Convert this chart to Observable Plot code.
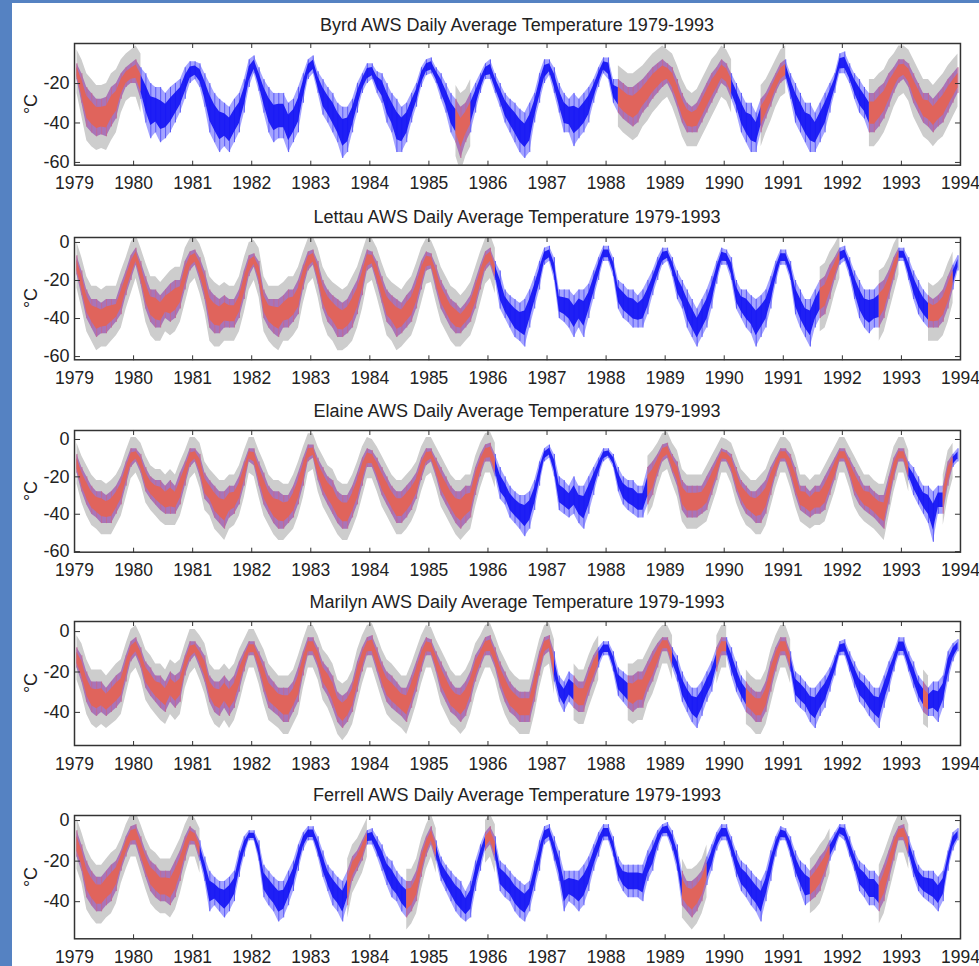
<!DOCTYPE html>
<html>
<head>
<meta charset="utf-8">
<script src="https://cdn.jsdelivr.net/npm/d3@7"></script>
<script src="https://cdn.jsdelivr.net/npm/@observablehq/plot@0.6"></script>
<style>
  body { margin: 0; background: #5582c2; }
  #page { position: absolute; left: 12px; top: 3px; width: 967px; height: 963px; background: #fff; overflow: hidden; }
  .ttl { position: absolute; left: 62px; width: 886px; text-align: center; font: 18px "Liberation Sans", Arial, sans-serif; line-height: 18px; color: #222; white-space: nowrap; }
  .ylab { position: absolute; width: 40px; text-align: center; font: 18px "Liberation Sans", Arial, sans-serif; line-height: 18px; color: #222; transform: rotate(-90deg); }
  svg { position: absolute; left: 0; overflow: visible; }
</style>
</head>
<body>
<div id="page"></div>
<script>
// ---------------- data (monthly extent of daily values, °C; Jan..Dec per row) ----------------
const stations = ["Byrd", "Lettau", "Elaine", "Marilyn", "Ferrell"];
const xTicks = [1979,1980,1981,1982,1983,1984,1985,1986,1987,1988,1989,1990,1991,1992,1993,1994];
const firstYear = 1979;

const byrdHi = [
 -10,-15,-22,-25,-28,-28,-27,-22,-20,-15,-12,-10,
 -8,-12,-15,-20,-22,-22,-25,-22,-20,-18,-12,-9,
 -9,-10,-15,-20,-25,-28,-30,-32,-28,-25,-18,-8,
 -6,-12,-18,-22,-25,-25,-25,-30,-28,-22,-15,-8,
 -6,-14,-18,-22,-25,-30,-32,-32,-28,-20,-15,-10,
 -10,-14,-15,-20,-25,-28,-32,-30,-25,-20,-12,-8,
 -7,-12,-15,-20,-25,-28,-32,-30,-25,-20,-15,-10,
 -8,-15,-20,-25,-28,-30,-33,-35,-30,-25,-15,-8,
 -8,-12,-20,-25,-28,-25,-28,-25,-22,-18,-12,-7,
 -7,-18,-18,-20,-22,-22,-20,-18,-15,-12,-10,-8,
 -10,-12,-18,-25,-30,-32,-30,-25,-20,-15,-12,-8,
 -10,-15,-20,-25,-30,-30,-35,-28,-25,-20,-15,-10,
 -8,-15,-20,-25,-30,-30,-35,-30,-25,-20,-15,-5,
 -4,-10,-15,-18,-22,-25,-25,-22,-20,-15,-12,-8,
 -8,-10,-15,-20,-25,-25,-28,-25,-22,-18,-15,-12];
const byrdLo = [
 -18,-30,-42,-45,-47,-46,-47,-42,-38,-28,-22,-20,
 -20,-28,-40,-48,-45,-50,-48,-45,-40,-35,-28,-20,
 -18,-22,-32,-45,-50,-55,-52,-55,-50,-45,-35,-22,
 -15,-24,-35,-45,-50,-48,-48,-55,-50,-45,-30,-18,
 -15,-25,-36,-40,-45,-50,-58,-55,-45,-35,-25,-20,
 -18,-25,-30,-40,-45,-55,-55,-50,-40,-32,-22,-16,
 -15,-20,-28,-35,-45,-50,-58,-50,-45,-35,-25,-18,
 -18,-25,-32,-40,-45,-50,-55,-58,-55,-40,-30,-20,
 -16,-25,-35,-45,-45,-52,-48,-45,-40,-30,-22,-15,
 -18,-30,-35,-38,-40,-42,-40,-35,-32,-28,-25,-22,
 -20,-25,-32,-40,-45,-45,-45,-40,-35,-30,-25,-20,
 -22,-28,-35,-45,-50,-55,-55,-45,-38,-32,-25,-20,
 -18,-28,-40,-45,-50,-55,-55,-50,-45,-35,-25,-15,
 -15,-20,-28,-35,-38,-45,-45,-42,-38,-32,-25,-20,
 -18,-22,-30,-35,-40,-42,-45,-42,-40,-35,-30,-25];

const lettauHi = [
 -7,-15,-25,-30,-30,-32,-30,-30,-30,-22,-15,-7,
 -3,-10,-18,-25,-25,-28,-25,-22,-20,-20,-10,-5,
 -4,-8,-15,-25,-28,-30,-28,-30,-30,-25,-15,-7,
 -6,-10,-25,-30,-30,-30,-28,-25,-25,-20,-12,-5,
 -4,-10,-20,-25,-28,-30,-32,-30,-25,-20,-12,-4,
 -5,-10,-18,-25,-28,-30,-32,-28,-25,-18,-10,-5,
 -6,-12,-20,-25,-30,-32,-35,-32,-28,-20,-12,-5,
 -3,-10,-15,-25,-28,-30,-32,-30,-25,-18,-10,-3,
 -2,-8,-25,-25,-25,-28,-25,-25,-22,-15,-8,-2,
 -2,-8,-20,-22,-25,-25,-28,-25,-20,-15,-8,-3,
 -3,-8,-15,-20,-25,-30,-35,-30,-25,-18,-10,-3,
 -4,-8,-20,-25,-25,-28,-30,-28,-25,-18,-10,-4,
 -4,-10,-20,-25,-30,-30,-25,-20,-18,-12,-8,-3,
 -2,-8,-15,-20,-25,-25,-25,-22,-20,-15,-8,-3,
 -3,-8,-15,-20,-25,-28,-30,-28,-25,-18,-12,-7];
const lettauLo = [
 -17,-28,-40,-45,-50,-48,-48,-45,-42,-38,-28,-20,
 -12,-22,-35,-42,-45,-45,-40,-42,-40,-35,-25,-15,
 -12,-20,-30,-45,-48,-48,-45,-45,-45,-40,-30,-18,
 -13,-22,-40,-45,-48,-50,-45,-45,-42,-38,-25,-15,
 -12,-22,-35,-42,-45,-50,-50,-48,-45,-38,-28,-15,
 -13,-22,-32,-42,-45,-50,-48,-45,-42,-35,-25,-15,
 -14,-25,-35,-40,-45,-48,-48,-45,-42,-35,-25,-15,
 -12,-20,-35,-40,-45,-50,-52,-55,-45,-35,-25,-12,
 -10,-20,-40,-42,-45,-50,-45,-50,-40,-30,-20,-10,
 -10,-18,-35,-40,-42,-45,-45,-45,-38,-28,-20,-12,
 -10,-18,-30,-35,-45,-50,-55,-50,-45,-35,-22,-12,
 -12,-20,-35,-40,-45,-48,-55,-50,-45,-35,-22,-12,
 -12,-20,-38,-45,-50,-55,-45,-40,-38,-30,-20,-12,
 -10,-18,-30,-40,-45,-48,-45,-45,-40,-30,-20,-10,
 -10,-20,-30,-38,-42,-45,-45,-45,-42,-35,-25,-15];

const elaineHi = [
 -8,-15,-20,-25,-28,-28,-30,-28,-25,-20,-12,-5,
 -5,-8,-15,-20,-22,-22,-25,-22,-25,-18,-12,-5,
 -5,-8,-18,-22,-25,-28,-28,-25,-25,-20,-12,-5,
 -5,-12,-18,-25,-28,-28,-30,-30,-25,-18,-10,-3,
 -3,-10,-15,-20,-22,-28,-30,-30,-25,-18,-10,-5,
 -6,-10,-15,-20,-25,-28,-28,-25,-22,-18,-10,-5,
 -5,-10,-15,-20,-25,-28,-28,-25,-25,-15,-8,-3,
 -2,-8,-15,-20,-25,-28,-30,-30,-28,-22,-12,-5,
 -3,-8,-20,-22,-25,-20,-25,-25,-20,-15,-10,-5,
 -5,-8,-15,-20,-22,-22,-25,-25,-15,-12,-8,-3,
 -2,-8,-12,-22,-25,-25,-25,-25,-20,-15,-10,-5,
 -6,-8,-15,-22,-25,-28,-28,-25,-22,-15,-10,-5,
 -5,-8,-15,-25,-25,-28,-25,-25,-20,-15,-10,-5,
 -5,-10,-15,-20,-25,-25,-28,-30,-30,-20,-10,-5,
 -5,-12,-15,-20,-25,-25,-28,-25,-25,-12,-8,-5];
const elaineLo = [
 -18,-28,-35,-40,-42,-45,-45,-45,-40,-35,-25,-15,
 -12,-18,-28,-32,-35,-38,-40,-40,-40,-35,-25,-15,
 -12,-20,-32,-35,-42,-45,-48,-42,-40,-35,-25,-12,
 -14,-25,-35,-40,-45,-48,-48,-45,-42,-35,-25,-12,
 -10,-22,-30,-35,-40,-45,-48,-48,-42,-35,-25,-15,
 -15,-22,-30,-35,-40,-45,-45,-42,-38,-32,-22,-14,
 -12,-20,-30,-35,-40,-45,-48,-45,-42,-30,-20,-12,
 -12,-20,-32,-35,-42,-45,-48,-52,-48,-38,-25,-12,
 -10,-20,-38,-40,-42,-40,-45,-48,-40,-30,-20,-12,
 -10,-15,-28,-35,-38,-40,-42,-42,-35,-30,-20,-12,
 -10,-18,-25,-38,-42,-42,-42,-40,-38,-30,-22,-12,
 -12,-18,-28,-35,-40,-42,-45,-45,-40,-30,-20,-12,
 -12,-20,-30,-38,-40,-42,-40,-40,-38,-30,-22,-12,
 -12,-20,-30,-35,-38,-40,-42,-45,-48,-35,-22,-12,
 -12,-22,-30,-35,-40,-45,-55,-40,-40,-25,-15,-12];

const marilynHi = [
 -8,-12,-20,-25,-25,-25,-28,-25,-22,-20,-12,-5,
 -3,-8,-15,-18,-22,-22,-25,-20,-22,-20,-12,-5,
 -5,-8,-12,-22,-25,-25,-22,-25,-22,-15,-10,-5,
 -5,-10,-15,-22,-25,-28,-28,-28,-25,-18,-10,-3,
 -3,-8,-15,-18,-22,-30,-32,-30,-25,-15,-8,-3,
 -2,-8,-15,-20,-22,-25,-28,-28,-22,-15,-8,-3,
 -4,-10,-15,-20,-25,-28,-28,-25,-20,-12,-8,-3,
 -2,-8,-15,-20,-25,-28,-30,-30,-30,-20,-10,-3,
 -2,-10,-22,-25,-20,-22,-25,-25,-18,-12,-8,-5,
 -5,-10,-18,-20,-22,-22,-20,-20,-15,-10,-6,-3,
 -3,-8,-12,-20,-25,-28,-28,-25,-20,-15,-8,-3,
 -3,-8,-15,-22,-25,-28,-30,-30,-25,-15,-8,-3,
 -3,-10,-20,-22,-25,-28,-28,-25,-22,-18,-12,-5,
 -4,-10,-15,-20,-22,-25,-28,-28,-22,-15,-10,-3,
 -3,-10,-15,-22,-25,-28,-25,-25,-22,-10,-6,-4];
const marilynLo = [
 -18,-25,-35,-40,-42,-40,-42,-40,-38,-35,-25,-15,
 -12,-18,-28,-32,-35,-38,-40,-35,-38,-35,-22,-15,
 -12,-18,-25,-35,-40,-42,-38,-42,-38,-30,-20,-12,
 -12,-20,-30,-38,-40,-42,-45,-45,-40,-35,-22,-12,
 -12,-18,-28,-32,-38,-45,-48,-45,-40,-30,-20,-12,
 -12,-20,-28,-35,-38,-40,-42,-45,-38,-30,-20,-12,
 -12,-20,-30,-35,-40,-42,-45,-42,-35,-25,-18,-12,
 -12,-18,-28,-35,-40,-42,-45,-45,-45,-35,-22,-12,
 -10,-25,-35,-40,-35,-38,-40,-40,-32,-25,-18,-12,
 -12,-20,-32,-35,-38,-40,-38,-38,-30,-25,-18,-10,
 -10,-18,-25,-35,-40,-45,-48,-42,-35,-30,-20,-12,
 -12,-22,-30,-35,-40,-42,-45,-45,-40,-30,-20,-12,
 -12,-20,-35,-38,-40,-45,-48,-42,-38,-30,-22,-12,
 -12,-20,-28,-35,-38,-42,-45,-48,-38,-30,-20,-12,
 -12,-20,-28,-35,-40,-42,-42,-45,-38,-25,-15,-10];

const ferrellHi = [
 -5,-12,-20,-25,-28,-28,-25,-22,-20,-15,-8,-3,
 -2,-8,-15,-20,-22,-25,-25,-25,-20,-15,-8,-3,
 -5,-10,-18,-25,-28,-30,-30,-28,-25,-15,-8,-5,
 -5,-10,-22,-25,-28,-30,-30,-25,-20,-12,-6,-3,
 -3,-8,-15,-22,-25,-28,-30,-25,-18,-15,-10,-5,
 -4,-8,-12,-18,-20,-25,-28,-30,-30,-25,-15,-8,
 -3,-10,-18,-22,-25,-28,-30,-35,-30,-20,-12,-6,
 -3,-8,-20,-22,-25,-28,-30,-32,-30,-20,-10,-3,
 -2,-8,-15,-25,-25,-25,-25,-22,-18,-12,-6,-2,
 -2,-8,-18,-22,-22,-22,-22,-22,-15,-10,-5,-2,
 -1,-5,-12,-25,-30,-30,-28,-25,-18,-12,-6,-2,
 -2,-8,-15,-20,-22,-25,-28,-30,-25,-15,-8,-3,
 -4,-8,-15,-20,-22,-25,-22,-18,-15,-10,-6,-2,
 -2,-8,-15,-20,-22,-25,-25,-28,-22,-15,-8,-3,
 -2,-8,-15,-22,-25,-25,-25,-28,-25,-15,-6,-4];
const ferrellLo = [
 -18,-25,-38,-42,-45,-45,-42,-40,-35,-25,-18,-12,
 -12,-20,-28,-35,-38,-40,-40,-42,-38,-30,-20,-12,
 -12,-20,-30,-45,-42,-45,-48,-45,-40,-28,-18,-10,
 -10,-20,-38,-42,-45,-50,-48,-42,-35,-25,-15,-10,
 -10,-18,-28,-35,-42,-45,-50,-42,-30,-25,-20,-12,
 -12,-18,-25,-32,-38,-40,-45,-48,-45,-40,-28,-18,
 -12,-20,-30,-35,-40,-45,-48,-50,-48,-35,-25,-15,
 -12,-20,-35,-38,-40,-45,-48,-50,-45,-35,-25,-12,
 -10,-20,-30,-45,-40,-42,-45,-42,-35,-25,-18,-10,
 -10,-18,-30,-35,-38,-38,-38,-40,-30,-25,-15,-8,
 -8,-15,-25,-42,-45,-48,-45,-40,-32,-25,-15,-10,
 -10,-18,-28,-35,-38,-42,-45,-50,-40,-30,-18,-10,
 -10,-18,-28,-35,-42,-40,-38,-35,-28,-20,-15,-8,
 -10,-18,-25,-35,-38,-42,-42,-45,-40,-30,-20,-10,
 -10,-18,-28,-35,-38,-40,-42,-45,-40,-25,-15,-10];

// periods filled by the reconstruction (red with grey uncertainty), in fractional years
const byrdRec = [[1979, 1980.05], [1985.4, 1985.7], [1988.2, 1990.05], [1990.6, 1991.0], [1992.45, 1994]];
const lettauRec = [[1979, 1986.1], [1991.55, 1991.9], [1992.55, 1992.9], [1993.45, 1993.85]];
const elaineRec = [[1979, 1986.05], [1988.7, 1993.1], [1993.7, 1993.8]];
const marilynRec = [[1979, 1987.05], [1987.4, 1987.8], [1988.3, 1989.05], [1989.8, 1990.0], [1990.3, 1991.05], [1993.35, 1993.45]];
const ferrellRec = [[1979, 1981.05], [1983.6, 1983.95], [1984.55, 1985.1], [1985.95, 1986.1], [1989.25, 1989.7], [1991.45, 1991.75], [1992.6, 1993.05]];

// reconstruction uncertainty (°C) shown as the grey band
const recUncertainty = [7, 7, 6, 6, 6];

const yTickSets = [[-20, -40, -60], [0, -20, -40, -60], [0, -20, -40, -60], [0, -20, -40], [0, -20, -40]];

// ---------------- layout ----------------
const layout = [
  {top: 43.3, bottom: 165, title: 25, domain: [-61.4, 0.3]},
  {top: 236.7, bottom: 359, title: 216.7, domain: [-61.7, 2.6]},
  {top: 430, bottom: 551.7, title: 410.7, domain: [-60.3, 4.8]},
  {top: 621, bottom: 745, title: 601.7, domain: [-56.4, 5]},
  {top: 815, bottom: 938.3, title: 795, domain: [-58.3, 2.5]}
];
const his = [byrdHi, lettauHi, elaineHi, marilynHi, ferrellHi];
const los = [byrdLo, lettauLo, elaineLo, marilynLo, ferrellLo];
const recs = [byrdRec, lettauRec, elaineRec, marilynRec, ferrellRec];

const page = document.getElementById("page");
const PX = 12, PY = 3;           // page offset in the window
const W = 967, ML = 62, MR = 19, MT = 3, MB = 30;
const font = '"Liberation Sans", Arial, sans-serif';

stations.forEach((name, i) => {
  const L = layout[i];
  const boxH = L.bottom - L.top;
  const boxW = W - ML - MR;
  const err = recUncertainty[i];
  const rows = his[i].map((hi, k) => {
    const t = firstYear + (k + 0.5) / 12;
    const lo = los[i][k];
    const rec = recs[i].some(([a, b]) => t >= a && t < b);
    return {t, hi, lo, rec};
  });
  // split into runs of the same source; each run also takes the next month so runs join
  const runs = [];
  rows.forEach((d) => {
    const last = runs[runs.length - 1];
    if (!last || last.rec !== d.rec) {
      if (last) last.rows.push(d);
      runs.push({rec: d.rec, rows: [d]});
    } else last.rows.push(d);
  });
  const data = runs.flatMap((r, j) => r.rows.map(d => ({...d, seg: j, src: r.rec})));
  const obs = data.filter(d => !d.src);
  const rec = data.filter(d => d.src);
  const obsPts = rows.filter(d => !d.rec);
  const recPts = rows.filter(d => d.rec);
  const inner = (d, f) => d.lo + (d.hi - d.lo) * f;

  const plot = Plot.plot({
    width: W,
    height: boxH + MT + MB,
    marginLeft: ML, marginRight: MR, marginTop: MT, marginBottom: MB,
    style: {fontFamily: font, fontSize: "18px", color: "#222", background: "transparent", overflow: "visible"},
    x: {domain: [1979, 1994], label: null},
    y: {domain: L.domain, label: null},
    marks: [
      Plot.areaY(rec, {x: "t", y1: d => d.lo - err, y2: d => d.hi + err, z: "seg", fill: "#cdcdcd", clip: true}),
      Plot.areaY(obs, {x: "t", y1: "lo", y2: "hi", z: "seg", fill: "#a4a4ff", clip: true}),
      Plot.areaY(rec, {x: "t", y1: "lo", y2: "hi", z: "seg", fill: "#a974b8", clip: true}),
      Plot.ruleX(obsPts, {x: "t", y1: "lo", y2: "hi", stroke: "#5a5af8", strokeWidth: 1, clip: true}),
      Plot.ruleX(recPts, {x: "t", y1: "lo", y2: "hi", stroke: "#c06a96", strokeWidth: 1, clip: true}),
      Plot.areaY(obs, {x: "t", y1: d => inner(d, 0.24), y2: d => inner(d, 0.76), z: "seg", fill: "#1414f4", fillOpacity: 0.92, clip: true}),
      Plot.areaY(rec, {x: "t", y1: d => inner(d, 0.22), y2: d => inner(d, 0.78), z: "seg", fill: "#e0645c", clip: true}),
      Plot.frame({stroke: "#333", strokeWidth: 1.5}),
      // tick labels
      Plot.axisX(xTicks, {anchor: "bottom", tickSize: 0, tickPadding: 11.6, tickFormat: d => String(d), label: null, fontSize: 17.5}),
      Plot.axisY(yTickSets[i], {anchor: "left", tickSize: 0, tickPadding: 5, tickFormat: d => String(d), label: null, fontSize: 18}),
      // inward tick marks on all four sides
      Plot.axisX(xTicks.slice(1, -1), {anchor: "top", tickSize: 5, dy: boxH, tickFormat: () => "", label: null, stroke: "#333"}),
      Plot.axisX(xTicks.slice(1, -1), {anchor: "bottom", tickSize: 5, dy: -boxH, tickFormat: () => "", label: null, stroke: "#333"}),
      Plot.axisY(yTickSets[i], {anchor: "right", tickSize: 5, dx: -boxW, tickFormat: () => "", label: null, stroke: "#333"}),
      Plot.axisY(yTickSets[i], {anchor: "left", tickSize: 5, dx: boxW, tickFormat: () => "", label: null, stroke: "#333"})
    ]
  });
  plot.style.top = (L.top - PY - MT) + "px";
  page.appendChild(plot);

  const t = document.createElement("div");
  t.className = "ttl";
  t.style.top = (L.title - PY - 9) + "px";
  t.textContent = `${name} AWS Daily Average Temperature 1979-1993`;
  page.appendChild(t);

  const yl = document.createElement("div");
  yl.className = "ylab";
  yl.style.left = (31 - PX - 20) + "px";
  yl.style.top = ((L.top + L.bottom) / 2 - PY - 9) + "px";
  yl.textContent = "°C";
  page.appendChild(yl);
});
</script>
</body>
</html>
